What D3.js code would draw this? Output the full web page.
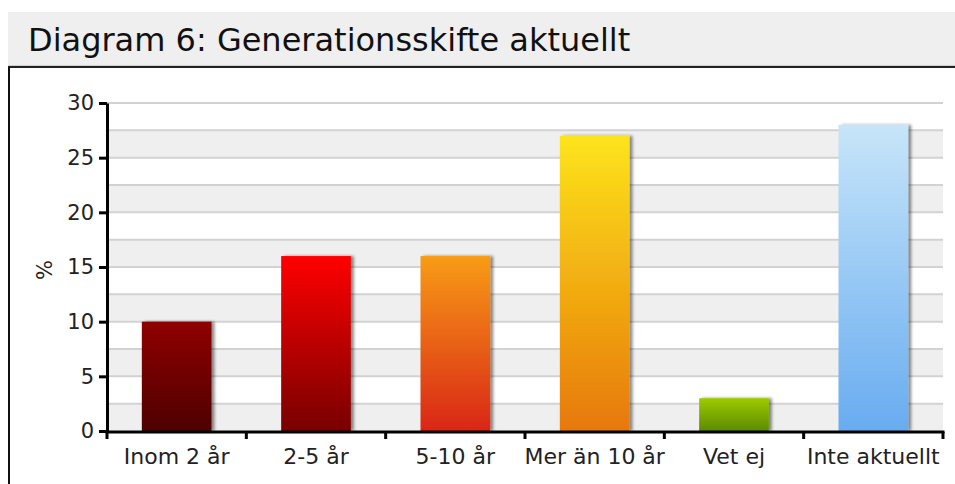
<!DOCTYPE html>
<html>
<head>
<meta charset="utf-8">
<script src="https://cdn.jsdelivr.net/npm/d3@7"></script>
<style>
  body { margin: 0; background: #fff; }
  text { font-family: "DejaVu Sans", sans-serif; fill: #222; }
</style>
</head>
<body>
<div id="chart"></div>
<script>
// Data
const categories = ['Inom 2 år', '2-5 år', '5-10 år', 'Mer än 10 år', 'Vet ej', 'Inte aktuellt'];
const values = [10, 16, 16, 27, 3, 28];
const yTicks = [0, 5, 10, 15, 20, 25, 30];
// gradient colours, top -> bottom
const topColors = ['#900000', '#ff0000', '#f89c18', '#fde41c', '#9dcb02', '#c7e5f9'];
const bottomColors = ['#4e0000', '#780000', '#d92617', '#e77807', '#5c8a00', '#68acf0'];

const width = 955, height = 484;
const margin = { top: 103, right: 12, bottom: 52, left: 107 };
const innerW = 943 - margin.left;
const innerH = 431 - margin.top;

const svg = d3.select('#chart').append('svg')
  .attr('width', width)
  .attr('height', height);

// title band
svg.append('rect').attr('x', 8).attr('y', 12).attr('width', width - 8).attr('height', 54).attr('fill', '#efefef');
svg.append('line').attr('x1', 8).attr('x2', width).attr('y1', 65.5).attr('y2', 65.5).attr('stroke', '#cfcfcf').attr('stroke-width', 1);
svg.append('line').attr('x1', 8).attr('x2', width).attr('y1', 67).attr('y2', 67).attr('stroke', '#222').attr('stroke-width', 2);
svg.append('line').attr('x1', 9).attr('x2', 9).attr('y1', 67).attr('y2', height).attr('stroke', '#111').attr('stroke-width', 2);
svg.append('text')
  .attr('x', 28).attr('y', 51)
  .style('font-size', '32px')
  .style('fill', '#111')
  .text('Diagram 6: Generationsskifte aktuellt');

const chart = svg.append('g').attr('transform', `translate(${margin.left},${margin.top})`);

const x = d3.scaleBand().domain(categories).range([0, innerW]).paddingInner(0.5).paddingOuter(0.25);
const y = d3.scaleLinear().domain([0, 30]).range([innerH, 0]);

// alternating grey bands every 2.5
const bands = d3.range(0, 30, 5);
chart.selectAll('.band').data(bands).enter().append('rect')
  .attr('class', 'band')
  .attr('x', 0).attr('width', innerW)
  .attr('y', d => y(d + 2.5))
  .attr('height', d => y(d) - y(d + 2.5))
  .attr('fill', '#efefef');

// grid lines
chart.selectAll('.grid').data(d3.range(2.5, 30.1, 2.5)).enter().append('line')
  .attr('class', 'grid')
  .attr('x1', 0).attr('x2', innerW)
  .attr('y1', d => y(d)).attr('y2', d => y(d))
  .attr('stroke', '#d2d2d2').attr('stroke-width', 2);

// gradients and shadow
const defs = svg.append('defs');
categories.forEach((c, i) => {
  const g = defs.append('linearGradient').attr('id', 'grad' + i)
    .attr('x1', 0).attr('y1', 0).attr('x2', 0).attr('y2', 1);
  g.append('stop').attr('offset', '0%').attr('stop-color', topColors[i]);
  g.append('stop').attr('offset', '100%').attr('stop-color', bottomColors[i]);
});
const f = defs.append('filter').attr('id', 'shadow').attr('x', '-10%').attr('y', '-10%').attr('width', '130%').attr('height', '120%');
f.append('feDropShadow').attr('dx', 3).attr('dy', 0).attr('stdDeviation', 1.5).attr('flood-color', '#000').attr('flood-opacity', 0.45);

chart.selectAll('.bar').data(values).enter().append('rect')
  .attr('class', 'bar')
  .attr('x', (d, i) => x(categories[i]))
  .attr('width', x.bandwidth())
  .attr('y', d => y(d))
  .attr('height', d => innerH - y(d))
  .attr('fill', (d, i) => `url(#grad${i})`)
  .attr('filter', 'url(#shadow)');

// y axis
const yAxis = d3.axisLeft(y).tickValues(yTicks).tickSize(8).tickSizeOuter(0).tickPadding(5);
const yG = chart.append('g').call(yAxis);
yG.select('.domain').attr('stroke', '#000').attr('stroke-width', 3);
yG.selectAll('.tick line').attr('stroke', '#000').attr('stroke-width', 3);
yG.selectAll('.tick text').style('font-size', '21px').style('font-family', '"DejaVu Sans", sans-serif').attr('fill', '#222');

// x axis with ticks at category boundaries
const xAxisG = chart.append('g').attr('transform', `translate(0,${innerH + 1})`);
xAxisG.append('line').attr('x1', -1.5).attr('x2', innerW + 1.5).attr('stroke', '#000').attr('stroke-width', 3);
const bounds = d3.range(0, categories.length + 1).map(i => i * x.step());
xAxisG.selectAll('.xtick').data(bounds).enter().append('line')
  .attr('class', 'xtick')
  .attr('x1', d => d).attr('x2', d => d)
  .attr('y1', 0).attr('y2', 7)
  .attr('stroke', '#000').attr('stroke-width', 3);
xAxisG.selectAll('.xlabel').data(categories).enter().append('text')
  .attr('class', 'xlabel')
  .attr('x', d => x(d) + x.bandwidth() / 2)
  .attr('y', 32)
  .attr('text-anchor', 'middle')
  .style('font-size', '22px')
  .text(d => d);

// y label
svg.append('text')
  .attr('transform', 'translate(52,270) rotate(-90)')
  .attr('text-anchor', 'middle')
  .style('font-size', '21px')
  .text('%');
</script>
</body>
</html>
